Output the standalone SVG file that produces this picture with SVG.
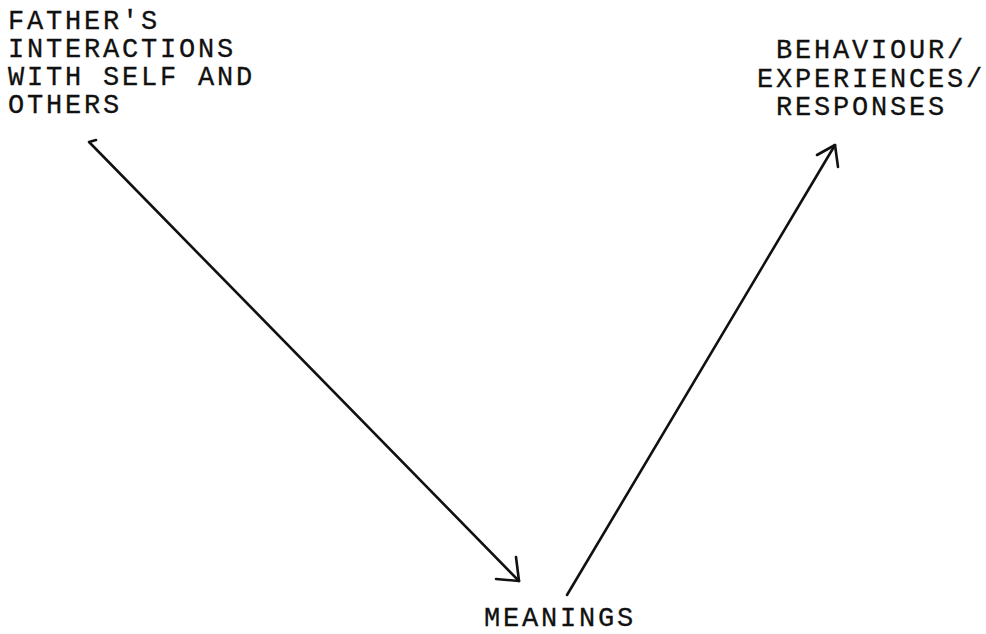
<svg xmlns="http://www.w3.org/2000/svg" width="986" height="634" viewBox="0 0 986 634">
<style>
text{font-family:"Liberation Mono","Courier New",monospace;font-size:27px;letter-spacing:2.8px;fill:#111;stroke:#111;stroke-width:0.3}
.c{fill:none;stroke:#111;stroke-width:2.6;stroke-linecap:round;stroke-linejoin:round}
</style>
<rect width="986" height="634" fill="#fff"/>
<g id="father">
<text x="8" y="29">FATHER'S</text>
<text x="8" y="57">INTERACTIONS</text>
<text x="8" y="85">WITH SELF AND</text>
<text x="8" y="113">OTHERS</text>
</g>
<g id="behaviour">
<text x="776" y="58">BEHAVIOUR/</text>
<text x="757" y="87">EXPERIENCES/</text>
<text x="776" y="115">RESPONSES</text>
</g>
<g id="meanings">
<text x="484" y="626">MEANINGS</text>
</g>
<g id="connectors">
<path class="c" d="M96,140 L89,142 L92,145 L519,581"/>
<path class="c" d="M516,557 L519,581 L496,579"/>
<path class="c" d="M567,595 L835,145"/>
<path class="c" d="M817,155 L835,145 L838,167"/>
</g>
</svg>
